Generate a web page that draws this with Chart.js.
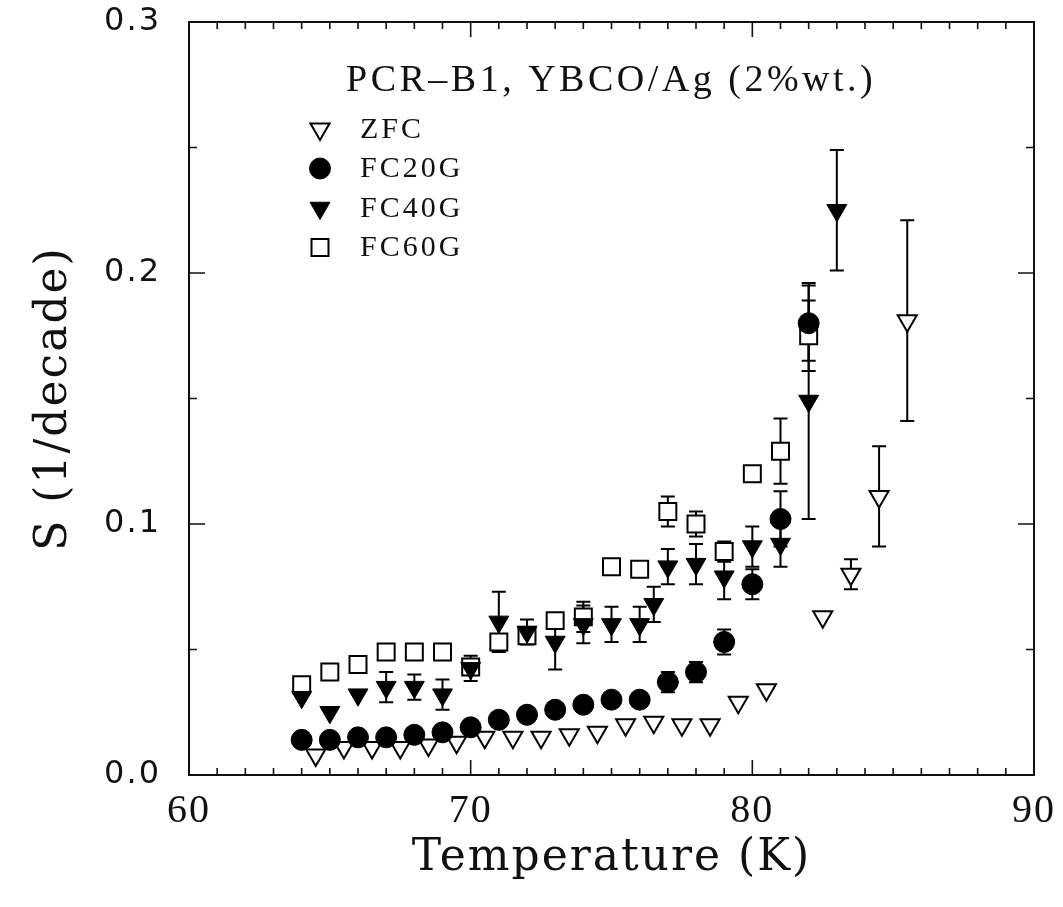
<!DOCTYPE html>
<html>
<head>
<meta charset="utf-8">
<title>Flux creep rate S vs temperature</title>
<script src="https://cdn.jsdelivr.net/npm/chart.js@4.4.1/dist/chart.umd.min.js"></script>
<style>
  html, body { margin: 0; padding: 0; background: #ffffff; }
  #wrap { width: 1063px; height: 907px; }
</style>
</head>
<body>
<div id="wrap"><canvas id="chart" width="1063" height="907"></canvas></div>
<script>
// ---- data: S (1/decade) versus T (K) ----
const sampleTitle = 'PCR\u2013B1, YBCO/Ag (2%wt.)';
const seriesNames = ['ZFC', 'FC20G', 'FC40G', 'FC60G'];

const zfcT   = [64.5, 65.5, 66.5, 67.5, 68.5, 69.5, 70.5, 71.5, 72.5, 73.5, 74.5, 75.5, 76.5, 77.5, 78.5, 79.5, 80.5, 82.5, 83.5, 84.5, 85.5];
const zfcS   = [0.008, 0.011, 0.011, 0.011, 0.012, 0.013, 0.015, 0.015, 0.015, 0.016, 0.017, 0.020, 0.021, 0.020, 0.020, 0.029, 0.034, 0.063, 0.080, 0.111, 0.181];
const zfcErr = [null, null, null, null, null, null, null, null, null, null, null, null, null, null, null, null, null, null, 0.006, 0.020, 0.040];

const fc20T   = [64, 65, 66, 67, 68, 69, 70, 71, 72, 73, 74, 75, 76, 77, 78, 79, 80, 81, 82];
const fc20S   = [0.014, 0.014, 0.015, 0.015, 0.016, 0.017, 0.019, 0.022, 0.024, 0.026, 0.028, 0.030, 0.030, 0.037, 0.041, 0.053, 0.076, 0.102, 0.180];
const fc20Err = [null, null, null, null, null, null, null, null, null, null, null, null, null, 0.004, 0.004, 0.005, 0.006, 0.011, 0.015];

const fc40T   = [64, 65, 66, 67, 68, 69, 70, 71, 72, 73, 74, 75, 76, 76.5, 77, 78, 79, 80, 81, 82, 83];
const fc40S   = [0.031, 0.025, 0.032, 0.035, 0.035, 0.032, 0.0425, 0.061, 0.057, 0.053, 0.060, 0.060, 0.060, 0.068, 0.083, 0.084, 0.079, 0.091, 0.092, 0.149, 0.225];
const fc40Err = [null, null, null, 0.006, 0.005, 0.006, 0.005, 0.012, 0.005, 0.011, 0.0075, 0.007, 0.007, 0.007, 0.007, 0.008, 0.009, 0.008, 0.009, 0.047, 0.024];

const fc60T   = [64, 65, 66, 67, 68, 69, 70, 71, 72, 73, 74, 75, 76, 77, 78, 79, 80, 81, 82];
const fc60S   = [0.036, 0.041, 0.044, 0.049, 0.049, 0.049, 0.043, 0.053, 0.0555, 0.0615, 0.063, 0.083, 0.082, 0.105, 0.100, 0.089, 0.120, 0.129, 0.175];
const fc60Err = [null, null, null, null, null, null, null, null, null, null, 0.006, null, null, 0.006, 0.005, 0.004, null, 0.013, 0.014];

// axis ranges and labelled ticks
const xTickLabels = [60, 70, 80, 90];
const yTickLabels = [0.0, 0.1, 0.2, 0.3];

const toPoints = (xs, ys) => xs.map((t, i) => ({ x: t, y: ys[i] }));

// frame with inward tick marks on all four sides
const frameTicks = {
  id: 'frameTicks',
  beforeDatasetsDraw(chart) {
    const { ctx, chartArea: a, scales: { x, y } } = chart;
    ctx.save();
    ctx.strokeStyle = '#111';
    ctx.lineWidth = 2;
    ctx.strokeRect(a.left, a.top, a.right - a.left, a.bottom - a.top);
    ctx.lineWidth = 1.6;
    ctx.beginPath();
    const x0 = xTickLabels[0], x1 = xTickLabels[xTickLabels.length - 1];
    for (let t = x0; t <= x1; t += 1) {
      const px = x.getPixelForValue(t);
      const len = (t - x0) % 10 === 0 ? 15 : 7;
      ctx.moveTo(px, a.bottom); ctx.lineTo(px, a.bottom - len);
      ctx.moveTo(px, a.top); ctx.lineTo(px, a.top + len);
    }
    for (let k = 0; k <= 6; k++) {
      const py = y.getPixelForValue(k * 0.05);
      const len = k % 2 === 0 ? 16 : 8;
      ctx.moveTo(a.left, py); ctx.lineTo(a.left + len, py);
      ctx.moveTo(a.right, py); ctx.lineTo(a.right - len, py);
    }
    ctx.stroke();
    ctx.restore();
  }
};

// vertical error bars with caps, drawn beneath the markers
const errorBars = {
  id: 'errorBars',
  beforeDatasetsDraw(chart) {
    const { ctx, scales: { x, y } } = chart;
    ctx.save();
    ctx.strokeStyle = '#000';
    ctx.lineWidth = 2;
    chart.data.datasets.forEach(ds => {
      if (!ds.errors) return;
      ds.data.forEach((p, i) => {
        const e = ds.errors[i];
        if (e == null) return;
        const px = x.getPixelForValue(p.x);
        const yt = y.getPixelForValue(p.y + e);
        const yb = y.getPixelForValue(p.y - e);
        ctx.beginPath();
        ctx.moveTo(px, yt); ctx.lineTo(px, yb);
        ctx.moveTo(px - 7, yt); ctx.lineTo(px + 7, yt);
        ctx.moveTo(px - 7, yb); ctx.lineTo(px + 7, yb);
        ctx.stroke();
      });
    });
    ctx.restore();
  }
};

// white page and spaced-out lettering for the axis text
const spacing = {
  id: 'spacing',
  beforeDraw(chart) {
    const ctx = chart.ctx;
    ctx.save();
    ctx.fillStyle = '#ffffff';
    ctx.fillRect(0, 0, chart.width, chart.height);
    ctx.restore();
    ctx.letterSpacing = '2px';
  },
  afterDraw(chart) { chart.ctx.letterSpacing = '0px'; }
};

// in-plot key: sample name and one row per series
const keyBox = {
  id: 'keyBox',
  afterDraw(chart) {
    const ctx = chart.ctx;
    ctx.save();
    ctx.fillStyle = '#111';
    ctx.textAlign = 'left';
    ctx.textBaseline = 'middle';
    ctx.letterSpacing = '3.5px';
    ctx.font = '38px "Liberation Serif"';
    ctx.fillText(sampleTitle, 346, 81);
    ctx.font = '30px "Liberation Serif"';
    ctx.letterSpacing = '3px';
    [0, 1, 2, 3].forEach(i => {
      const ds = chart.data.datasets[i];
      const yy = 129 + i * 39.5;
      ctx.save();
      ctx.fillStyle = ds.backgroundColor;
      ctx.strokeStyle = ds.borderColor;
      ctx.lineWidth = ds.borderWidth;
      Chart.helpers.drawPoint(ctx, {
        pointStyle: ds.pointStyle,
        rotation: ds.rotation || 0,
        radius: ds.pointRadius,
        borderWidth: ds.borderWidth
      }, 320, yy);
      ctx.restore();
      ctx.fillStyle = '#111';
      ctx.fillText(ds.label, 360, yy + 1);
    });
    ctx.restore();
  }
};

const markerBase = { showLine: false, borderWidth: 2, borderColor: '#000' };

new Chart(document.getElementById('chart'), {
  type: 'scatter',
  data: {
    datasets: [
      { ...markerBase, label: seriesNames[0], data: toPoints(zfcT, zfcS), errors: zfcErr,
        pointStyle: 'triangle', rotation: 180, pointRadius: 11, backgroundColor: '#ffffff', order: 3 },
      { ...markerBase, label: seriesNames[1], data: toPoints(fc20T, fc20S), errors: fc20Err,
        pointStyle: 'circle', pointRadius: 10.5, backgroundColor: '#000', borderWidth: 1, order: 0 },
      { ...markerBase, label: seriesNames[2], data: toPoints(fc40T, fc40S), errors: fc40Err,
        pointStyle: 'triangle', rotation: 180, pointRadius: 11.5, backgroundColor: '#000', borderWidth: 1, order: 1 },
      { ...markerBase, label: seriesNames[3], data: toPoints(fc60T, fc60S), errors: fc60Err,
        pointStyle: 'rect', pointRadius: 12, backgroundColor: '#ffffff', order: 2 }
    ]
  },
  options: {
    responsive: false,
    animation: false,
    events: [],
    layout: { padding: { top: 22, right: 29, left: 0, bottom: 0 } },
    plugins: { legend: { display: false }, tooltip: { enabled: false } },
    scales: {
      x: {
        type: 'linear',
        min: xTickLabels[0],
        max: xTickLabels[xTickLabels.length - 1],
        afterBuildTicks: s => { s.ticks = xTickLabels.map(v => ({ value: v })); },
        ticks: {
          color: '#111',
          padding: 12,
          font: { family: '"Liberation Serif"', size: 40 },
          callback: v => String(v)
        },
        grid: { display: false, drawTicks: false },
        border: { display: false },
        title: {
          display: true,
          text: 'Temperature (K)',
          color: '#111',
          font: { family: '"DejaVu Serif"', size: 44 },
          padding: { top: 0, bottom: 22 }
        },
        afterFit: s => { s.height = 132; s.paddingLeft = 0; s.paddingRight = 0; }
      },
      y: {
        type: 'linear',
        min: yTickLabels[0],
        max: yTickLabels[yTickLabels.length - 1],
        afterBuildTicks: s => { s.ticks = yTickLabels.map(v => ({ value: v })); },
        ticks: {
          color: '#111',
          padding: 28,
          font: { family: '"DejaVu Sans"', size: 32 },
          callback: v => Number(v).toFixed(1)
        },
        grid: { display: false, drawTicks: false },
        border: { display: false },
        title: {
          display: true,
          text: 'S (1/decade)',
          color: '#111',
          font: { family: '"DejaVu Serif"', size: 44 },
          padding: { top: 28, bottom: 0 }
        },
        afterFit: s => { s.width = 189; s.paddingTop = 0; s.paddingBottom = 0; }
      }
    }
  },
  plugins: [spacing, frameTicks, errorBars, keyBox]
});
</script>
</body>
</html>
